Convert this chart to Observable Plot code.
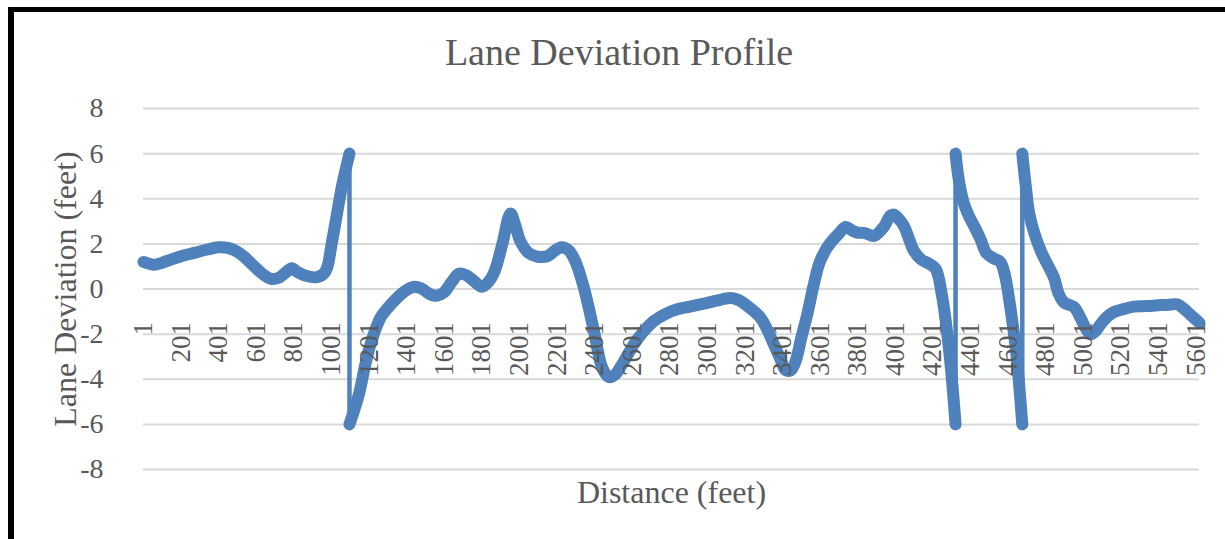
<!DOCTYPE html>
<html>
<head>
<meta charset="utf-8">
<script src="https://cdn.jsdelivr.net/npm/d3@7"></script>
<script src="https://cdn.jsdelivr.net/npm/@observablehq/plot@0.6"></script>
<style>
  html, body { margin: 0; padding: 0; background: #fff; overflow: hidden; width: 1225px; height: 539px; }
  #border { position: absolute; left: 8px; top: 7px; width: 1400px; height: 700px;
            border-left: 6px solid #000; border-top: 5px solid #000; box-sizing: border-box; }
  #title { position: absolute; left: 0; top: 0; width: 1238px; height: 90px; box-sizing: border-box;
           padding-top: 34px; text-align: center; font-family: "Liberation Serif", serif;
           font-size: 38px; line-height: 37px; color: #595959; }
  #chart { position: absolute; left: 0; top: 90px; }
</style>
</head>
<body>
<div id="border"></div>
<div id="title">Lane Deviation Profile</div>
<div id="chart"></div>
<script>
// ---- data ----
const dist = [
  // segment 0
  1, 60, 130, 200, 270, 340, 400, 450, 500, 540, 590, 630, 680, 720, 760, 790, 820, 860, 920, 960, 980, 1000, 1030, 1058, 1097,
  // segment 1
  1097, 1147, 1180, 1209, 1262, 1300, 1351, 1400, 1440, 1480, 1530, 1560, 1600, 1640, 1679, 1720, 1760, 1803, 1840, 1870, 1910, 1954, 1980, 2007, 2050, 2090, 2149, 2190, 2225, 2265, 2300, 2344, 2398, 2442, 2477, 2510, 2540, 2575, 2610, 2660, 2717, 2780, 2841, 2910, 2983, 3050, 3125, 3170, 3214, 3284, 3320, 3355, 3390, 3418, 3445, 3471, 3500, 3533, 3565, 3595, 3625, 3657, 3700, 3737, 3770, 3799, 3840, 3888, 3940, 3975, 3994, 4020, 4047, 4075, 4101, 4140, 4181, 4216, 4250, 4290, 4322,
  // segment 2
  4322, 4340, 4366, 4395, 4420, 4455, 4485, 4526, 4560, 4585, 4606, 4625, 4642, 4660, 4677,
  // segment 3
  4677, 4695, 4713, 4740, 4775, 4810, 4846, 4870, 4899, 4952, 4988, 5015, 5041, 5065, 5094, 5130, 5165, 5220, 5271, 5320, 5360, 5413, 5460, 5502, 5540, 5573, 5600, 5620
];
const dev = [
  1.2, 1.08, 1.25, 1.45, 1.6, 1.75, 1.85, 1.82, 1.65, 1.4, 1.0, 0.7, 0.45, 0.5, 0.75, 0.92, 0.75, 0.6, 0.52, 0.68, 1.0, 1.9, 3.3, 4.6, 6.0,
  -6.0, -4.67, -3.4, -2.45, -1.27, -0.85, -0.39, -0.05, 0.1, 0.02, -0.25, -0.3, -0.15, 0.3, 0.68, 0.6, 0.35, 0.1, 0.35, 0.8, 1.98, 3.35, 2.8, 2.1, 1.6, 1.45, 1.45, 1.7, 1.85, 1.7, 1.2, 0.06, -1.86, -3.49, -3.9, -3.8, -3.45, -2.95, -2.45, -1.9, -1.42, -1.1, -0.9, -0.78, -0.65, -0.52, -0.4, -0.5, -0.75, -1.27, -1.8, -2.45, -3.1, -3.6, -3.6, -3.2, -2.2, -1.12, 0.1, 1.09, 1.65, 2.05, 2.45, 2.75, 2.6, 2.5, 2.48, 2.35, 2.75, 3.25, 3.3, 3.1, 2.8, 2.2, 1.68, 1.3, 1.12, 0.9, -0.3, -2.9, -6.0,
  6.0, 4.8, 3.8, 3.2, 2.8, 2.2, 1.6, 1.35, 1.2, 0.6, -0.4, -1.5, -2.6, -4.2, -6.0,
  6.0, 4.6, 3.4, 2.5, 1.7, 1.1, 0.5, -0.2, -0.6, -0.8, -1.3, -1.75, -2.0, -1.88, -1.56, -1.22, -1.02, -0.88, -0.78, -0.76, -0.75, -0.71, -0.7, -0.68, -0.9, -1.15, -1.35, -1.5
];
const segLengths = [25, 81, 15, 28];
const jumpDist = [1097, 4322, 4677];
const jumpLow = [-6, -6, -6];
const jumpHigh = [6, 6, 6];
const xTicks = d3.range(1, 5602, 200);
const yTicks = [-8, -6, -4, -2, 0, 2, 4, 6, 8];
const xDomain = [1, 5620];
const axisCross = 0;

// ---- build table ----
const seg = [];
segLengths.forEach((n, i) => { for (let k = 0; k < n; k++) seg.push(i); });
const rows = dist.map((d, i) => ({dist: d, dev: dev[i], seg: seg[i]}));
const jumps = jumpDist.map((d, i) => ({dist: d, lo: jumpLow[i], hi: jumpHigh[i]}));

const textColor = "#595959";
const lineColor = "#4f81bd";

const chart = Plot.plot({
  width: 1225,
  height: 449,
  marginLeft: 143,
  marginRight: 26,
  marginTop: 18,
  marginBottom: 70,
  style: {fontFamily: "'Liberation Serif', 'Times New Roman', serif", background: "transparent", overflow: "visible"},
  x: {domain: xDomain, axis: null},
  y: {domain: [-8, 8], axis: null},
  marks: [
    Plot.ruleY(yTicks, {y: d => d, stroke: "#d9d9d9", strokeWidth: 2}),
    Plot.ruleX(jumps, {x: "dist", y1: "lo", y2: "hi", stroke: lineColor, strokeWidth: 4.5}),
    Plot.line(rows, {x: "dist", y: "dev", z: "seg", curve: "catmull-rom", stroke: lineColor,
      strokeWidth: 12, strokeLinecap: "round", strokeLinejoin: "round"}),
    Plot.text(yTicks, {y: d => d, text: d => String(d), frameAnchor: "left", dx: -40,
      textAnchor: "end", fontSize: 28, fill: textColor}),
    Plot.text(xTicks, {x: d => d, y: () => axisCross, text: d => String(d), dy: 33, rotate: -90,
      textAnchor: "end", fontSize: 27, fill: textColor}),
    Plot.text(["Lane Deviation (feet)"], {frameAnchor: "left", dx: -78, rotate: -90,
      textAnchor: "middle", fontSize: 32, fill: textColor}),
    Plot.text(["Distance (feet)"], {frameAnchor: "bottom", dy: 33, lineAnchor: "bottom",
      textAnchor: "middle", fontSize: 32, fill: textColor})
  ]
});
document.getElementById("chart").appendChild(chart);
</script>
</body>
</html>
